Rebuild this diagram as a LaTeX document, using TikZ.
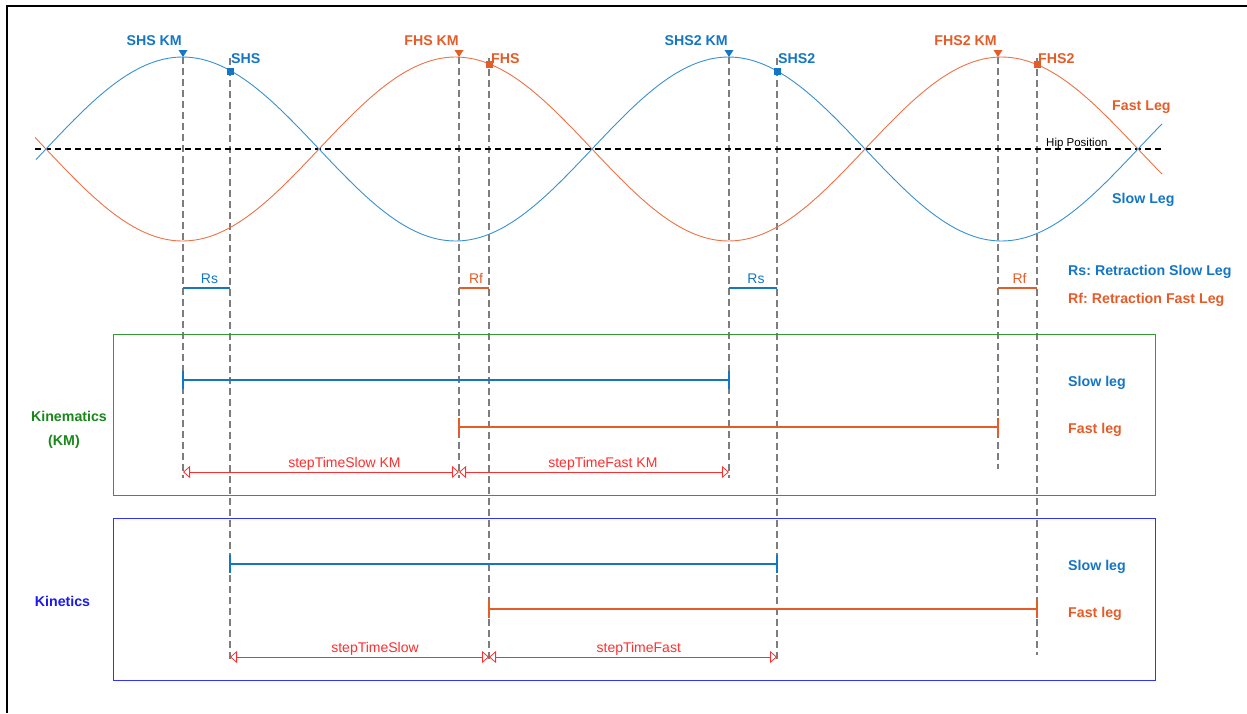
\documentclass[tikz,border=0pt]{standalone}
\usepackage{fontspec}
\setmainfont{Liberation Sans}
\usetikzlibrary{arrows.meta}
\frenchspacing
\definecolor{sblue}{RGB}{20,118,196}
\definecolor{sorange}{RGB}{228,92,40}
\definecolor{cblue}{RGB}{55,145,210}
\definecolor{corange}{RGB}{236,115,70}
\definecolor{kmgreen}{RGB}{50,155,50}
\definecolor{kmgreentext}{RGB}{25,135,25}
\definecolor{knblue}{RGB}{50,50,255}
\definecolor{kntext}{RGB}{25,25,240}
\definecolor{tred}{RGB}{255,45,45}
\definecolor{vgray}{RGB}{125,125,125}
\begin{document}
\begin{tikzpicture}[x=1pt,y=-1pt,
  lbl/.style={font=\fontsize{14.2}{16}\selectfont\bfseries, inner sep=0pt},
  plain/.style={font=\fontsize{14}{16}\selectfont, inner sep=0pt},
  vdash/.style={vgray, line width=1.3pt, dash pattern=on 7pt off 4pt},
  hipline/.style={black, line width=2pt, dash pattern=on 6pt off 4pt},
  legbar/.style={line width=2pt},
  legtick/.style={line width=2.5pt},
  rbar/.style={line width=2.8pt},
  tarrow/.style={tred, line width=0.8pt, {Triangle[open,length=7pt,width=12pt]}-{Triangle[open,length=7pt,width=12pt]}},
  curve/.style={line width=0.9pt},
  tlabel/.style={font=\fontsize{14}{16}\selectfont, text=tred, inner sep=1pt, above}
]
\useasboundingbox (0,0) rectangle (1247,713);
% border
\draw[line width=2pt] (7,713) -- (7,6) -- (1247,6);

% event coordinates
\coordinate (shskm) at (183,57);  \coordinate (shskmE) at (183,478);
\coordinate (shs)   at (230,58);  \coordinate (shsE)   at (230,662);
\coordinate (fhskm) at (459,57);  \coordinate (fhskmE) at (459,478);
\coordinate (fhs)   at (489,58);  \coordinate (fhsE)   at (489,662);
\coordinate (shstkm) at (729,57); \coordinate (shstkmE) at (729,478);
\coordinate (shst)  at (777,58);  \coordinate (shstE)  at (777,662);
\coordinate (fhstkm) at (998,57); \coordinate (fhstkmE) at (998,469);
\coordinate (fhst)  at (1037,58); \coordinate (fhstE)  at (1037,655);

% vertical dashed lines
\foreach \a in {shskm,shs,fhskm,fhs,shstkm,shst,fhstkm,fhst}
  \draw[vdash] (\a) -- (\a E);

% hip line
\coordinate (hipL) at (35,149);
\coordinate (hipR) at (1163,149);
\draw[hipline] (hipL) -- (hipR);
\node[font=\fontsize{11.5}{13}\selectfont, inner sep=0pt, anchor=base west] (hip) at (1046,146) {Hip Position};

% curves
\draw[curve, cblue] plot[domain=36:1162, samples=240] (\x, {149-92*sin((\x-46)/546*360)});
\draw[curve, corange] plot[domain=35:1162, samples=240] (\x, {149+92*sin((\x-46)/546*360)});

% markers
\fill[sblue] (shskm) -- ++(-4.5,-7) -- ++(9,0) -- cycle;
\fill[sorange] (fhskm) -- ++(-4.5,-7) -- ++(9,0) -- cycle;
\fill[sblue] (shstkm) -- ++(-4.5,-7) -- ++(9,0) -- cycle;
\fill[sorange] (fhstkm) -- ++(-4.5,-7) -- ++(9,0) -- cycle;
\coordinate (shsdot) at (230,71);
\coordinate (fhsdot) at (489,64);
\coordinate (shstdot) at (777,71);
\coordinate (fhstdot) at (1037,64);
\fill[sblue] ([shift={(-3.5,-3.5)}]shsdot) rectangle ([shift={(3.5,3.5)}]shsdot);
\fill[sorange] ([shift={(-3.5,-3.5)}]fhsdot) rectangle ([shift={(3.5,3.5)}]fhsdot);
\fill[sblue] ([shift={(-3.5,-3.5)}]shstdot) rectangle ([shift={(3.5,3.5)}]shstdot);
\fill[sorange] ([shift={(-3.5,-3.5)}]fhstdot) rectangle ([shift={(3.5,3.5)}]fhstdot);

% event labels
\node[lbl, text=sblue, anchor=base east] (lshskm) at (182,45) {SHS KM};
\node[lbl, text=sblue, anchor=base west] (lshs) at (231,63) {SHS};
\node[lbl, text=sorange, anchor=base east] (lfhskm) at (459,45) {FHS KM};
\node[lbl, text=sorange, anchor=base west] (lfhs) at (491,63) {FHS};
\node[lbl, text=sblue, anchor=base east] (lshstkm) at (728,45) {SHS2 KM};
\node[lbl, text=sblue, anchor=base west] (lshst) at (778,63) {SHS2};
\node[lbl, text=sorange, anchor=base east] (lfhstkm) at (997,45) {FHS2 KM};
\node[lbl, text=sorange, anchor=base west] (lfhst) at (1038,63) {FHS2};

\node[lbl, text=sorange, anchor=base west] (lfast) at (1112,110) {Fast Leg};
\node[lbl, text=sblue, anchor=base west] (lslow) at (1112,203) {Slow Leg};

% retraction bars
\coordinate (rsa) at (183,288); \coordinate (rsb) at (230,288);
\coordinate (rfa) at (459,288); \coordinate (rfb) at (489,288);
\coordinate (rsc) at (729,288); \coordinate (rsd) at (777,288);
\coordinate (rfc) at (998,288); \coordinate (rfd) at (1037,288);
\draw[rbar, sblue] (rsa) -- node[plain, text=sblue, above=3pt, xshift=3pt] (lrs1) {Rs} (rsb);
\draw[rbar, sorange] (rfa) -- node[plain, text=sorange, above=3pt, xshift=2pt] (lrf1) {Rf} (rfb);
\draw[rbar, sblue] (rsc) -- node[plain, text=sblue, above=3pt, xshift=3pt] (lrs2) {Rs} (rsd);
\draw[rbar, sorange] (rfc) -- node[plain, text=sorange, above=3pt, xshift=2pt] (lrf2) {Rf} (rfd);

\node[lbl, text=sblue, anchor=base west] (legrs) at (1068,275) {Rs: Retraction Slow Leg};
\node[lbl, text=sorange, anchor=base west] (legrf) at (1068,303) {Rf: Retraction Fast Leg};

% boxes
\node[draw=kmgreen, line width=1pt, minimum width=1042pt, minimum height=161pt, inner sep=0pt, anchor=north west] (kmbox) at (113,334) {};
\node[draw=knblue, line width=1pt, minimum width=1042pt, minimum height=162pt, inner sep=0pt, anchor=north west] (knbox) at (113,518) {};

\node[lbl, text=kmgreentext, anchor=base] (kmlab1) at (69,421) {Kinematics};
\node[lbl, text=kmgreentext, anchor=base] (kmlab2) at (64,445) {(KM)};
\node[lbl, text=kntext, anchor=base] (knlab) at (62.5,606) {Kinetics};

% kinematics bars
\coordinate (kms1) at (183,380); \coordinate (kms2) at (729,380);
\coordinate (kmf1) at (459,427); \coordinate (kmf2) at (998,427);
\draw[legbar, sblue] (kms1) -- (kms2);
\draw[legbar, sorange] (kmf1) -- (kmf2);
\foreach \p in {kms1,kms2} \draw[legtick, sblue] ([yshift=-9]\p) -- ([yshift=9]\p);
\foreach \p in {kmf1,kmf2} \draw[legtick, sorange] ([yshift=-9]\p) -- ([yshift=9]\p);
\node[lbl, text=sblue, anchor=base west] (kmslow) at (1068,386) {Slow leg};
\node[lbl, text=sorange, anchor=base west] (kmfast) at (1068,433) {Fast leg};

\coordinate (kma) at (183,472); \coordinate (kmb) at (459,472); \coordinate (kmc) at (729,472);
\draw[tarrow] (kma) -- node[tlabel, pos=0.585] (lstsk) {stepTimeSlow KM} (kmb);
\draw[tarrow] (kmb) -- node[tlabel, pos=0.533] (lstfk) {stepTimeFast KM} (kmc);

% kinetics bars
\coordinate (kns1) at (230,564); \coordinate (kns2) at (777,564);
\coordinate (knf1) at (489,609); \coordinate (knf2) at (1037,609);
\draw[legbar, sblue] (kns1) -- (kns2);
\draw[legbar, sorange] (knf1) -- (knf2);
\foreach \p in {kns1,kns2} \draw[legtick, sblue] ([yshift=-9]\p) -- ([yshift=9]\p);
\foreach \p in {knf1,knf2} \draw[legtick, sorange] ([yshift=-9]\p) -- ([yshift=9]\p);
\node[lbl, text=sblue, anchor=base west] (knslow) at (1068,570) {Slow leg};
\node[lbl, text=sorange, anchor=base west] (knfast) at (1068,617) {Fast leg};

\coordinate (kna) at (230,657); \coordinate (knb) at (489,657); \coordinate (knc) at (777,657);
\draw[tarrow] (kna) -- node[tlabel, pos=0.56] (lsts) {stepTimeSlow} (knb);
\draw[tarrow] (knb) -- node[tlabel, pos=0.52] (lstf) {stepTimeFast} (knc);
\end{tikzpicture}
\end{document}
